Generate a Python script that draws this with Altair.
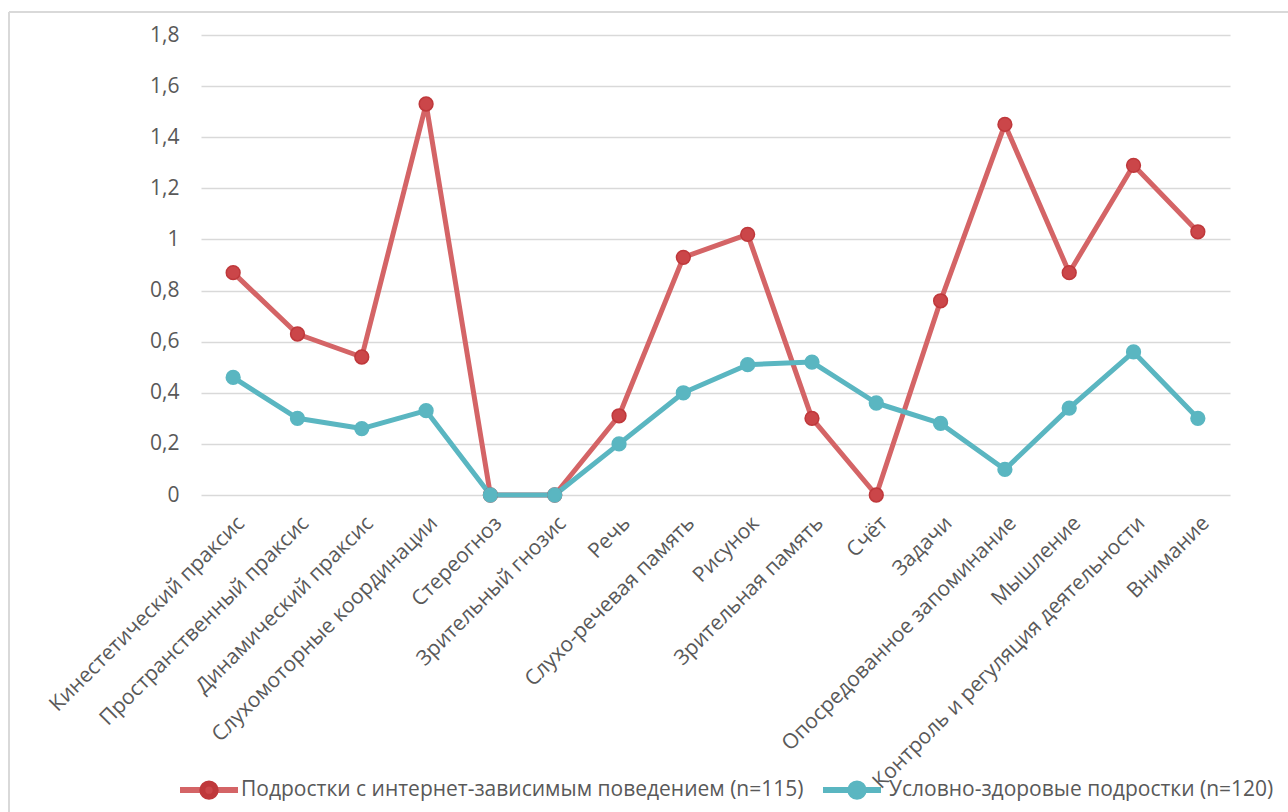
import altair as alt
import pandas as pd

# Neuropsychological test domains (x axis)
categories = [
    "Кинестетический праксис",
    "Пространственный праксис",
    "Динамический праксис",
    "Слухомоторные координации",
    "Стереогноз",
    "Зрительный гнозис",
    "Речь",
    "Слухо-речевая память",
    "Рисунок",
    "Зрительная память",
    "Счёт",
    "Задачи",
    "Опосредованное запоминание",
    "Мышление",
    "Контроль и регуляция деятельности",
    "Внимание",
]

series_names = [
    "Подростки с интернет-зависимым поведением (n=115)",
    "Условно-здоровые подростки (n=120)",
]

internet_dependent = [0.87, 0.63, 0.54, 1.53, 0.0, 0.0, 0.31, 0.93,
                      1.02, 0.30, 0.0, 0.76, 1.45, 0.87, 1.29, 1.03]
healthy = [0.46, 0.30, 0.26, 0.33, 0.0, 0.0, 0.20, 0.40,
           0.51, 0.52, 0.36, 0.28, 0.10, 0.34, 0.56, 0.30]

y_ticks = [0, 0.2, 0.4, 0.6, 0.8, 1, 1.2, 1.4, 1.6, 1.8]

line_colors = ["#D46466", "#5AB6C1"]
marker_fill = ["#CB4649", "#5AB6C1"]
marker_stroke = ["#BF383B", "#5AB6C1"]

rows = []
for name, values in zip(series_names, [internet_dependent, healthy]):
    for cat, v in zip(categories, values):
        rows.append({"Показатель": cat, "Группа": name, "Значение": v})
df = pd.DataFrame(rows)

FONT = "Open Sans"
TEXT_COLOR = "#595959"

# Legend: a line swatch (color legend, no labels) under a dot swatch with labels
# (fill legend). Both share the same origin and symbol box so the swatches stack.
LEGEND_X, LEGEND_Y = -24, 723
SWATCH = 58 * 58
SWATCH_STROKE = 6
dot_glyph = "M0.23,0A0.23,0.23,0,1,1,-0.23,0A0.23,0.23,0,1,1,0.23,0Z"

x_enc = alt.X(
    "Показатель:N",
    sort=categories,
    title=None,
    scale=alt.Scale(type="point", padding=0.5),
    axis=alt.Axis(
        labelAngle=-45,
        labelFontSize=21,
        labelFont=FONT,
        labelColor=TEXT_COLOR,
        labelLimit=600,
        labelPadding=17,
        ticks=False,
        domain=False,
        grid=False,
    ),
)
y_enc = alt.Y(
    "Значение:Q",
    title=None,
    scale=alt.Scale(domain=[0, 1.8], nice=False),
    axis=alt.Axis(
        values=y_ticks,
        labelExpr="replace(format(datum.value, '~g'), '.', ',')",
        labelFontSize=21,
        labelFont=FONT,
        labelColor=TEXT_COLOR,
        labelPadding=22,
        ticks=False,
        domain=False,
        grid=True,
        gridColor="#D9D9D9",
        gridWidth=1.5,
    ),
)

lines = alt.Chart(df).mark_line(strokeWidth=5, strokeJoin="round").encode(
    x=x_enc,
    y=y_enc,
    color=alt.Color(
        "Группа:N",
        sort=series_names,
        scale=alt.Scale(domain=series_names, range=line_colors),
        legend=alt.Legend(
            title=None,
            orient="none",
            direction="horizontal",
            legendX=LEGEND_X,
            legendY=LEGEND_Y,
            symbolType="stroke",
            symbolSize=SWATCH,
            symbolStrokeWidth=SWATCH_STROKE,
            symbolOpacity=1,
            labelExpr="''",
            labelOffset=0,
            labelFontSize=21,
            labelFont=FONT,
            columnPadding=561,
        ),
    ),
)

points = alt.Chart(df).mark_point(filled=True, size=190, opacity=1, strokeWidth=1.5).encode(
    x=x_enc,
    y=y_enc,
    fill=alt.Fill(
        "Группа:N",
        sort=series_names,
        scale=alt.Scale(domain=series_names, range=marker_fill),
        legend=alt.Legend(
            title=None,
            orient="none",
            direction="horizontal",
            legendX=LEGEND_X,
            legendY=LEGEND_Y,
            symbolType=dot_glyph,
            symbolSize=SWATCH,
            symbolStrokeWidth=SWATCH_STROKE,
            symbolStrokeColor="transparent",
            symbolOpacity=1,
            labelFont=FONT,
            labelFontSize=21,
            labelColor=TEXT_COLOR,
            labelLimit=800,
            labelOffset=0,
            columnPadding=21,
        ),
    ),
    stroke=alt.Stroke("Группа:N", sort=series_names,
                      scale=alt.Scale(domain=series_names, range=marker_stroke), legend=None),
)

# light frame along the left and top edges of the figure
frame_df = pd.DataFrame({"k": [0]})
frame_left = alt.Chart(frame_df).mark_rule(color="#D9D9D9", strokeWidth=2).encode(
    x=alt.value(-192), y=alt.value(-23), y2=alt.value(790)
)
frame_top = alt.Chart(frame_df).mark_rule(color="#D9D9D9", strokeWidth=2).encode(
    x=alt.value(-192), x2=alt.value(1100), y=alt.value(-23)
)

chart = (
    alt.layer(frame_left, frame_top, lines, points)
    .resolve_scale(color="independent", fill="independent", stroke="independent")
    .properties(
        width=1029,
        height=460,
        autosize=alt.AutoSizeParams(type="none"),
        padding={"left": 201, "top": 35, "right": 58, "bottom": 317},
        background="white",
    )
    .configure_view(stroke=None)
)

chart.save("out.html", embed_options={"renderer": "svg", "actions": False})
